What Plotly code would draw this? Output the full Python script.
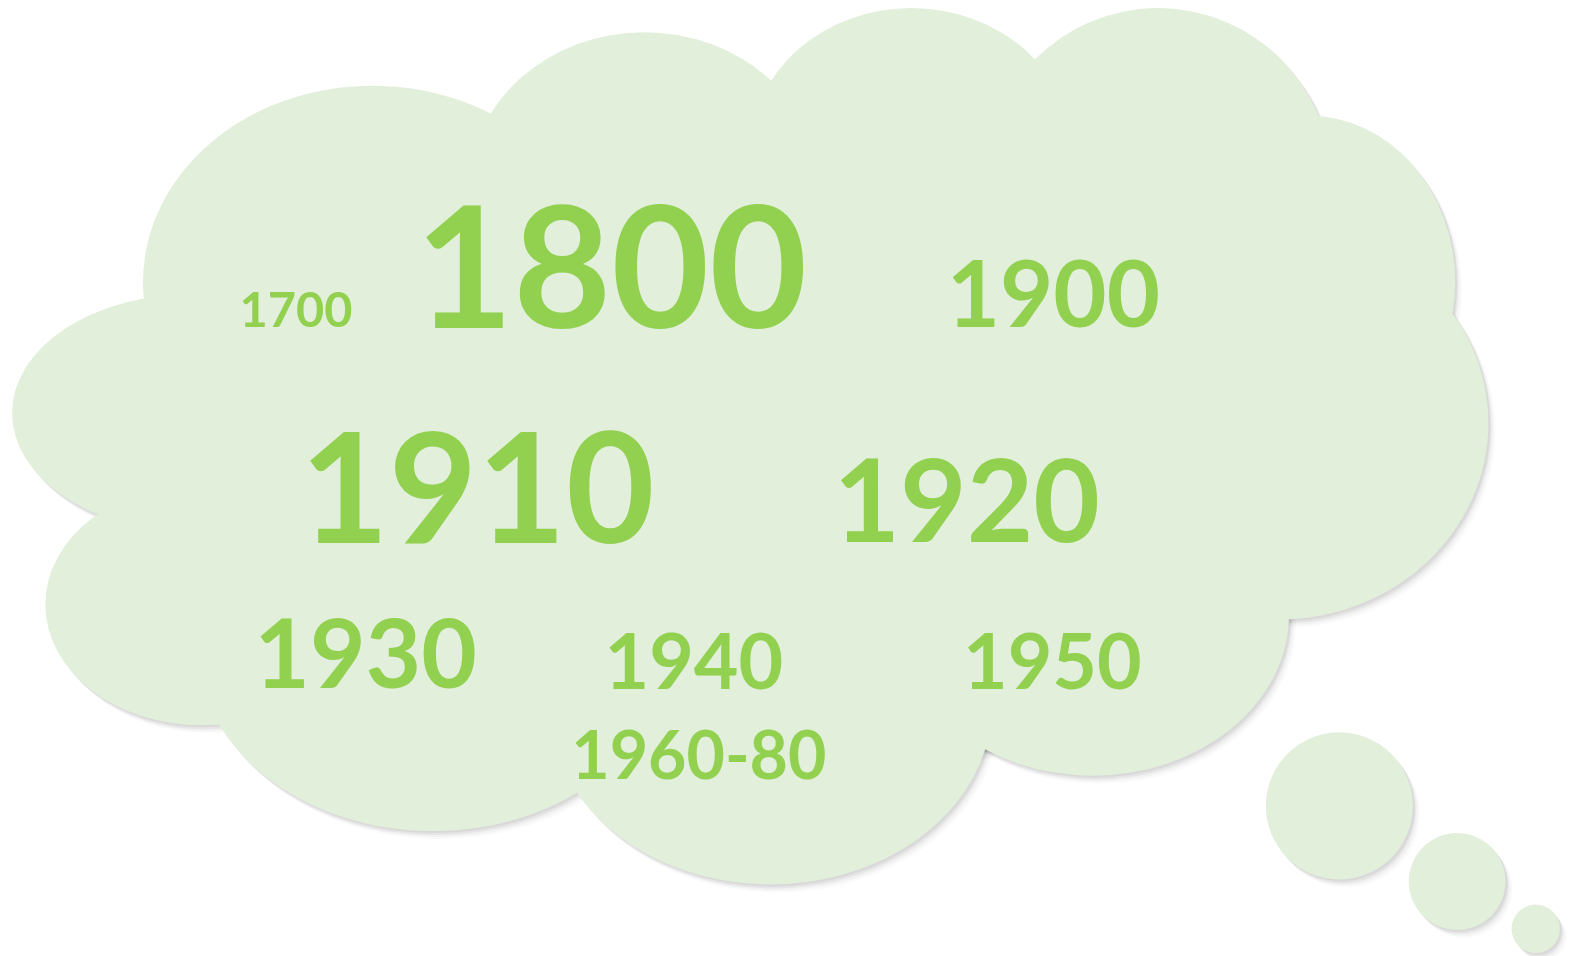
import plotly.graph_objects as go

# ---- data: words of the cloud and their weights (glyph height in px) ----
words = ["1700", "1800", "1900", "1910", "1920", "1930", "1940", "1950", "1960-80"]
weights = [36, 125, 68, 113, 85, 71, 57, 57, 49]

# ---- layout: word centres (reference pixel frame 1568x949) ----
pos_x = [294, 607, 1046, 474, 960, 363, 689, 1045, 694]
pos_y = [307, 265, 292, 484, 497, 649, 656, 656, 750]

W, H = 1568, 949
TEXT_COLOR = "#92D050"
FILL = "#E2EFDA"

# cloud lobes: (cx, cy, rx, ry)
lobes = [
    (370, 280, 228, 195),
    (640, 190, 175, 158),
    (905, 150, 160, 142),
    (1150, 180, 172, 172),
    (1300, 280, 145, 165),
    (1270, 420, 208, 195),
    (1085, 610, 195, 160),
    (765, 700, 220, 178),
    (430, 640, 235, 185),
    (200, 600, 155, 120),
    (190, 410, 178, 118),
    (760, 440, 560, 330),
]
bubbles = [
    (1330, 800, 73, 73),
    (1447, 875, 48, 48),
    (1525, 922, 24, 24),
]

shapes = []
shadow_layers = [(7, 8, 0.02), (5, 6, 0.03), (3, 4, 0.05), (2, 2, 0.05)]
for dx, dy, a in shadow_layers:
    for (cx, cy, rx, ry) in lobes + bubbles:
        shapes.append(dict(type="circle", xref="x", yref="y",
                           x0=cx - rx + dx, x1=cx + rx + dx,
                           y0=cy - ry + dy, y1=cy + ry + dy,
                           fillcolor=f"rgba(0,0,0,{a})", line=dict(width=0),
                           layer="below"))
for (cx, cy, rx, ry) in lobes + bubbles:
    shapes.append(dict(type="circle", xref="x", yref="y",
                       x0=cx - rx, x1=cx + rx, y0=cy - ry, y1=cy + ry,
                       fillcolor=FILL, line=dict(width=0), layer="below"))

scale = 1579 / 1568
em = [w / 0.745 for w in weights]            # em size in frame units
sizes = [e * scale for e in em]               # font size in px
text_y = [y + 0.11 * e for y, e in zip(pos_y, em)]

fig = go.Figure()
fig.add_trace(go.Scatter(
    x=pos_x, y=text_y, mode="text", text=words,
    textposition="middle center",
    textfont=dict(family="Lato", size=sizes, color=TEXT_COLOR, weight=700),
    hoverinfo="text", showlegend=False,
))
fig.update_layout(
    width=1579, height=956,
    margin=dict(l=0, r=0, t=0, b=0),
    paper_bgcolor="white", plot_bgcolor="white",
    shapes=shapes,
    xaxis=dict(range=[0, W], visible=False, fixedrange=True),
    yaxis=dict(range=[H, 0], visible=False, fixedrange=True),
    showlegend=False,
)
fig.write_html("out.html", config={"displayModeBar": False})

with open("out.html", "r", encoding="utf-8") as f:
    html = f.read()
html = html.replace("<body>", '<body style="margin:0;overflow:hidden;">', 1)
with open("out.html", "w", encoding="utf-8") as f:
    f.write(html)
